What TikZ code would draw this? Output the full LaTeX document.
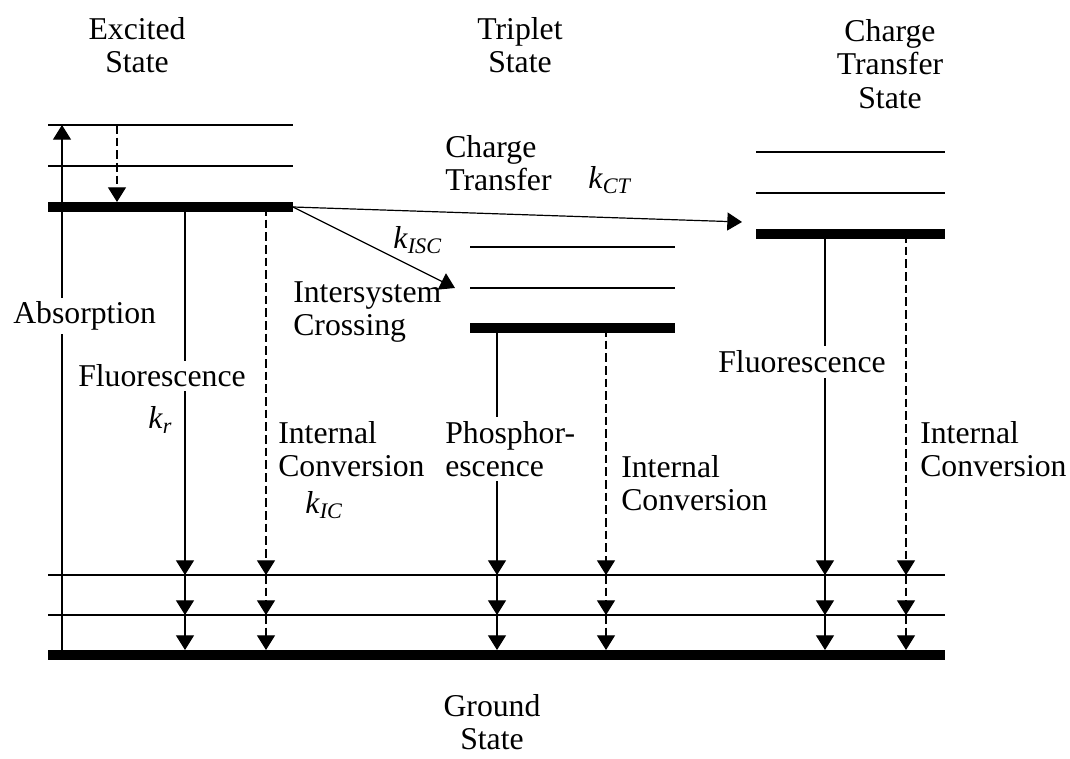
\documentclass[tikz,border=0pt]{standalone}
\usepackage{fontspec}
\setmainfont{Liberation Serif}
\usetikzlibrary{arrows.meta}

\tikzset{
  level/.style={line width=0.9pt},
  lowest/.style={line width=7.5pt},
  trans/.style={line width=0.9pt,-{Triangle[length=11pt,width=13.5pt]}},
  nonrad/.style={trans,dash pattern=on 6.5pt off 3pt},
  lbl/.style={inner sep=0pt,anchor=west,align=left},
  boxed/.style={lbl,fill=white,inner ysep=3pt},
  hdr/.style={inner sep=0pt,align=center},
}
\newcommand{\rate}[1]{\textit{k}\textsubscript{\textit{#1}}}

\begin{document}
\begin{tikzpicture}[x=0.75pt,y=-0.75pt,font=\fontsize{23.8}{25}\selectfont]
\useasboundingbox (0,0) rectangle (1070,759);

% energy levels
\coordinate (S3) at (48,125);
\coordinate (S2) at (48,166);
\coordinate (S1) at (48,207);
\coordinate (S1e) at (293,207);
\coordinate (T3) at (470,247);
\coordinate (T2) at (470,288);
\coordinate (T1) at (470,328);
\coordinate (C3) at (756,152);
\coordinate (C2) at (756,193);
\coordinate (C1) at (756,234);
\coordinate (G2) at (48,575);
\coordinate (G1) at (48,615);
\coordinate (G0) at (48,655);

% columns of the transitions
\coordinate (ab) at (62,0);
\coordinate (vr) at (117,0);
\coordinate (fl) at (185,0);
\coordinate (ic) at (266,0);
\coordinate (ph) at (497,0);
\coordinate (tic) at (606,0);
\coordinate (cfl) at (825,0);
\coordinate (cic) at (906,0);
\coordinate (isc) at (455,288);
\coordinate (ctr) at (742,222);

\draw[level] (S3) -- +(245,0);
\draw[level] (S2) -- +(245,0);
\draw[level] (T3) -- +(205,0);
\draw[level] (T2) -- +(205,0);
\draw[level] (C3) -- +(189,0);
\draw[level] (C2) -- +(189,0);
\draw[level] (G2) -- +(897,0);
\draw[level] (G1) -- +(897,0);

\draw[trans] (ab |- G0) -- (ab |- S3);
\draw[nonrad] (vr |- S3) -- ([yshift=3.75pt]vr |- S1);
\draw[trans] (S1e) -- (ctr);
\draw[trans] (S1e) -- (isc);

\foreach \c/\st/\from in {fl/trans/S1, ic/nonrad/S1, ph/trans/T1,
    tic/nonrad/T1, cfl/trans/C1, cic/nonrad/C1} {
  \draw[\st] (\c |- \from) -- (\c |- G2);
  \draw[\st] (\c |- G2) -- (\c |- G1);
  \draw[\st, shorten >=3.75pt] (\c |- G1) -- (\c |- G0);
}

\draw[lowest] (S1) -- (S1e);
\draw[lowest] (T1) -- +(205,0);
\draw[lowest] (C1) -- +(189,0);
\draw[lowest] (G0) -- +(897,0);

% labels
\node[hdr] (exc) at (137,45) {Excited\\State};
\node[hdr] (trip) at (520,45) {Triplet\\State};
\node[hdr] (cts) at (890,64) {Charge\\Transfer\\State};
\node[hdr] (gnd) at (492,722) {Ground\\State};

\node[boxed] (absl) at (13,316) {Absorption};
\node[boxed] (fll) at (78,376) {Fluorescence};
\node[lbl] (kr) at (148,420) {\rate{r}};
\node[lbl] (icl) at (278,449) {Internal\\Conversion};
\node[lbl] (kic) at (305,505) {\rate{IC}};
\node[lbl] (iscl) at (293,312) {Intersystem\\Crossing};
\node[lbl] (kisc) at (393,240) {\rate{ISC}};
\node[lbl] (ctl) at (445,163) {Charge\\Transfer};
\node[lbl] (kct) at (588,180) {\rate{CT}};
\node[boxed] (phl) at (445,449) {Phosphor-\\escence};
\node[lbl] (ticl) at (621,483) {Internal\\Conversion};
\node[hdr, fill=white, inner xsep=2pt, inner ysep=4pt] (cfll) at (802,362) {Fluorescence};
\node[lbl] (cicl) at (920,449) {Internal\\Conversion};
\end{tikzpicture}
\end{document}
